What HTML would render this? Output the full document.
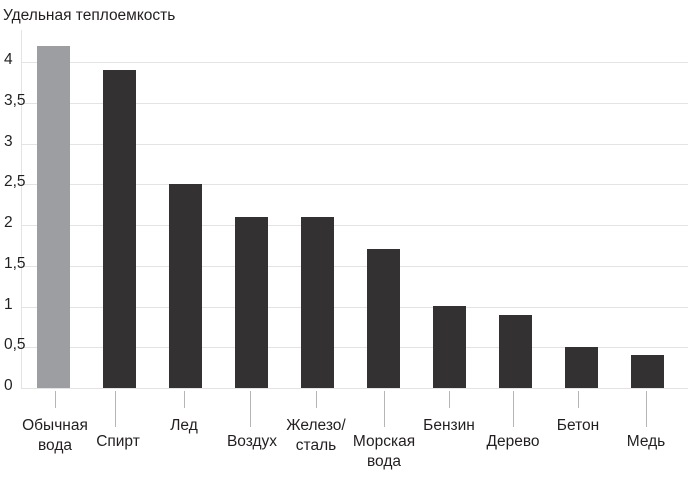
<!DOCTYPE html>
<html><head><meta charset="utf-8"><style>
body{margin:0;background:#fff;}
svg text{font-family:"Liberation Sans","DejaVu Sans",sans-serif;font-size:15.5px;fill:#231f20;}
</style></head><body>
<svg width="688" height="473" viewBox="0 0 688 473">
<text x="3" y="20">Удельная теплоемкость</text>
<g stroke="#e3e3e3" stroke-width="1">
<line x1="21" y1="62.5" x2="688" y2="62.5"/>
<line x1="21" y1="103.5" x2="688" y2="103.5"/>
<line x1="21" y1="144.5" x2="688" y2="144.5"/>
<line x1="21" y1="184.5" x2="688" y2="184.5"/>
<line x1="21" y1="225.5" x2="688" y2="225.5"/>
<line x1="21" y1="266.5" x2="688" y2="266.5"/>
<line x1="21" y1="307.5" x2="688" y2="307.5"/>
<line x1="21" y1="347.5" x2="688" y2="347.5"/>
<line x1="21" y1="388.5" x2="688" y2="388.5"/>
<line x1="21.5" y1="30" x2="21.5" y2="388"/>
</g>
<g>
<text x="4" y="64">4</text>
<text x="4" y="105">3,5</text>
<text x="4" y="146">3</text>
<text x="4" y="186">2,5</text>
<text x="4" y="227">2</text>
<text x="4" y="268">1,5</text>
<text x="4" y="309">1</text>
<text x="4" y="349">0,5</text>
<text x="4" y="390">0</text>
</g>
<rect x="37" y="46" width="33" height="342" fill="#9d9ea1"/>
<g fill="#333132">
<rect x="103" y="70" width="33" height="318"/>
<rect x="169" y="184" width="33" height="204"/>
<rect x="235" y="217" width="33" height="171"/>
<rect x="301" y="217" width="33" height="171"/>
<rect x="367" y="249" width="33" height="139"/>
<rect x="433" y="306" width="33" height="82"/>
<rect x="499" y="315" width="33" height="73"/>
<rect x="565" y="347" width="33" height="41"/>
<rect x="631" y="355" width="33" height="33"/>
</g>
<g stroke="#b5b5b5" stroke-width="1">
<line x1="55.5" y1="391" x2="55.5" y2="408"/>
<line x1="115.5" y1="391" x2="115.5" y2="427"/>
<line x1="184.5" y1="391" x2="184.5" y2="408"/>
<line x1="250.5" y1="391" x2="250.5" y2="427"/>
<line x1="316.5" y1="391" x2="316.5" y2="408"/>
<line x1="384.5" y1="391" x2="384.5" y2="427"/>
<line x1="449.5" y1="391" x2="449.5" y2="408"/>
<line x1="513.5" y1="391" x2="513.5" y2="427"/>
<line x1="578.5" y1="391" x2="578.5" y2="408"/>
<line x1="646.5" y1="391" x2="646.5" y2="427"/>
</g>
<g text-anchor="middle">
<text x="55" y="430">Обычная</text>
<text x="55" y="450">вода</text>
<text x="118" y="446">Спирт</text>
<text x="184" y="430">Лед</text>
<text x="252" y="446">Воздух</text>
<text x="316" y="430">Железо/</text>
<text x="316" y="450">сталь</text>
<text x="384" y="446">Морская</text>
<text x="384" y="466">вода</text>
<text x="449" y="430">Бензин</text>
<text x="513" y="446">Дерево</text>
<text x="578" y="430">Бетон</text>
<text x="646" y="446">Медь</text>
</g>
</svg>
</body></html>
